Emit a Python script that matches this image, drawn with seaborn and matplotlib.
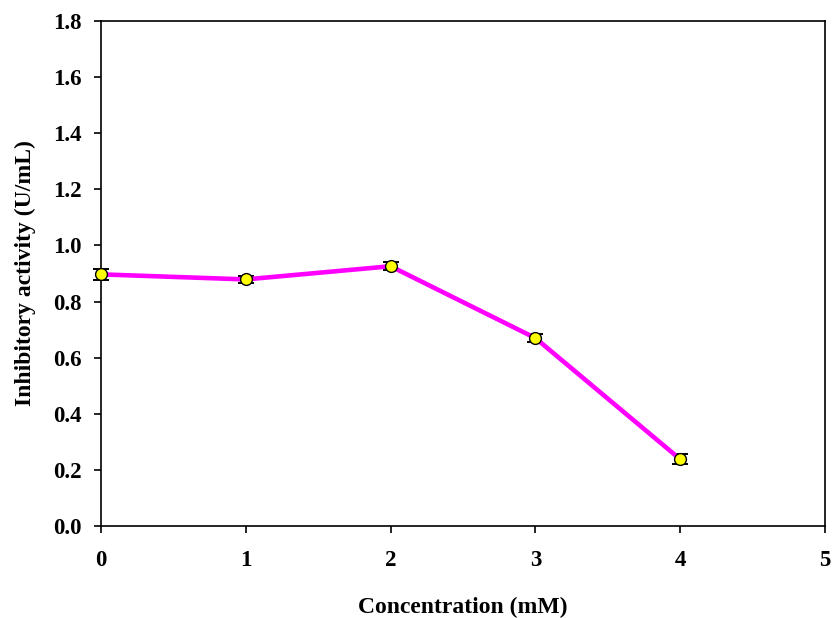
import matplotlib
matplotlib.use("Agg")
import matplotlib.pyplot as plt
import seaborn as sns
import pandas as pd

concentration = [0, 1, 2, 3, 4]
activity = [0.897, 0.879, 0.926, 0.670, 0.238]
errors = [0.020, 0.012, 0.015, 0.014, 0.018]
x_ticks = [0, 1, 2, 3, 4, 5]
y_ticks = [0.0, 0.2, 0.4, 0.6, 0.8, 1.0, 1.2, 1.4, 1.6, 1.8]

sns.set_style("ticks")
plt.rcParams['font.family'] = ['Liberation Serif', 'DejaVu Serif']
plt.rcParams['font.weight'] = 'bold'
plt.rcParams['text.color'] = 'black'
plt.rcParams['xtick.color'] = 'black'
plt.rcParams['ytick.color'] = 'black'
plt.rcParams['axes.labelcolor'] = 'black'

df = pd.DataFrame({"conc": concentration, "act": activity, "err": errors})

fig = plt.figure(figsize=(8.33, 6.18), dpi=100)
ax = fig.add_axes([0.1213, 0.1489, 0.869, 0.817])

eb = ax.errorbar(df["conc"], df["act"], yerr=df["err"], fmt="none", ecolor="black",
                 elinewidth=1.3, capsize=6, capthick=1.4, zorder=2)
for art in eb.lines[1] + eb.lines[2]:
    art.set_clip_on(False)
sns.lineplot(data=df, x="conc", y="act", ax=ax, color="#ff00ff", linewidth=3.3,
             marker="o", markersize=8.5, markerfacecolor="#ffff00",
             markeredgecolor="black", markeredgewidth=1.0, zorder=3)
for ln in ax.lines:
    ln.set_clip_on(False)

ax.set_xlim(0, 5)
ax.set_ylim(0, 1.8)
ax.set_xticks(x_ticks)
ax.set_xticklabels([str(t) for t in x_ticks])
ax.set_yticks(y_ticks)
ax.set_yticklabels([f"{t:.1f}" for t in y_ticks])
ax.tick_params(axis="both", labelsize=16.5, length=5, width=1.2, direction="out",
               colors="black")
ax.tick_params(axis="y", pad=9)
ax.tick_params(axis="x", pad=12)
for lab in ax.get_xticklabels() + ax.get_yticklabels():
    lab.set_fontweight("bold")
for s in ax.spines.values():
    s.set_visible(True)
    s.set_linewidth(1.2)
    s.set_color("black")

ax.set_xlabel("Concentration (mM)", fontsize=17, fontweight="bold", labelpad=19)
ax.set_ylabel("Inhibitory activity (U/mL)", fontsize=17, fontweight="bold", labelpad=12)

fig.savefig("out.png", dpi=100)
